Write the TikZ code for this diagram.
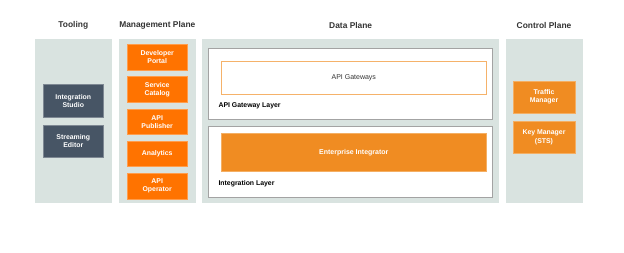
\documentclass[tikz,border=0pt]{standalone}
\usepackage{fontspec}
\setmainfont{Liberation Sans}
\begin{document}
\begin{tikzpicture}[x=1pt,y=-1pt,
  title/.style={font=\bfseries\fontsize{8.4}{9.5}\selectfont,text=titletxt},
  boxtext/.style={text=white,font=\bfseries\fontsize{6.9}{8.2}\selectfont,align=center},
  mgmtbox/.style={boxtext,fill=mgmtorange,draw=mgmtorange!70!white,line width=0.4pt},
  ctrlbox/.style={boxtext,fill=ctrlorange,draw=ctrlorange!70!white,line width=0.4pt},
  toolbox/.style={boxtext,fill=toolslate,draw=toolslate!70!white,line width=0.4pt},
  layerbox/.style={fill=white,draw=layergray,line width=0.8pt},
  layerlabel/.style={font=\bfseries\fontsize{6.9}{8.2}\selectfont,anchor=west,text=black}
]
\definecolor{panelbg}{HTML}{D9E3E0}
\definecolor{titletxt}{HTML}{333333}
\definecolor{mgmtorange}{HTML}{FF7300}
\definecolor{ctrlorange}{HTML}{F08C22}
\definecolor{toolslate}{HTML}{475565}
\definecolor{layergray}{HTML}{A3A3A3}
\definecolor{gwborder}{HTML}{F5B26A}

\useasboundingbox (0,0) rectangle (624,252);

% column titles
\node[title] (tTool) at (73.3,25) {Tooling};
\node[title] (tMgmt) at (157.3,25) {Management Plane};
\node[title] (tData) at (350.7,25) {Data Plane};
\node[title] (tCtrl) at (544,25) {Control Plane};

% column panels
\fill[panelbg] (35,39) rectangle (111.7,203);
\fill[panelbg] (118.7,39) rectangle (196,203);
\fill[panelbg] (202.3,39) rectangle (499,203);
\fill[panelbg] (505.7,39) rectangle (582.7,203);

% tooling
\node[toolbox,minimum width=60pt,minimum height=32.3pt] (studio) at (73.3,100.8) {Integration\\Studio};
\node[toolbox,minimum width=60pt,minimum height=32pt] (editor) at (73.3,141.3) {Streaming\\Editor};

% management plane
\node[mgmtbox,minimum width=60.3pt,minimum height=25.7pt] (portal) at (157.2,57.2) {Developer\\Portal};
\node[mgmtbox,minimum width=60.3pt,minimum height=25.7pt] (catalog) at (157.2,89.5) {Service\\Catalog};
\node[mgmtbox,minimum width=60.3pt,minimum height=25.7pt] (publisher) at (157.2,121.8) {API\\Publisher};
\node[mgmtbox,minimum width=60.3pt,minimum height=25.7pt] (analytics) at (157.2,153.8) {Analytics};
\node[mgmtbox,minimum width=60.3pt,minimum height=26pt] (operator) at (157.2,186) {API\\Operator};

% data plane layers
\node[layerbox,minimum width=284.4pt,minimum height=71.4pt] (gwlayer) at (350.5,84) {};
\node[layerbox,minimum width=284.4pt,minimum height=71.3pt] (intlayer) at (350.5,161.6) {};
\node[fill=white,draw=gwborder,line width=0.9pt,minimum width=265pt,minimum height=32.7pt,
  font=\fontsize{7}{8.4}\selectfont,text=titletxt] (gateways) at (353.8,77.6) {API Gateways};
\node[layerlabel] (gwlabel) at (215,106.3) {API Gateway Layer};
\node[fill=ctrlorange,draw=ctrlorange!70!white,line width=0.4pt,minimum width=265pt,minimum height=38pt,
  text=white,font=\bfseries\fontsize{7}{8.4}\selectfont] (integrator) at (353.8,152.3) {Enterprise Integrator};
\node[layerlabel] (intlabel) at (215,183.7) {Integration Layer};

% control plane
\node[ctrlbox,minimum width=61.4pt,minimum height=32.6pt] (traffic) at (544,97) {Traffic\\Manager};
\node[ctrlbox,minimum width=61.4pt,minimum height=32pt] (keymgr) at (544,137.3) {Key Manager\\(STS)};
\end{tikzpicture}
\end{document}
